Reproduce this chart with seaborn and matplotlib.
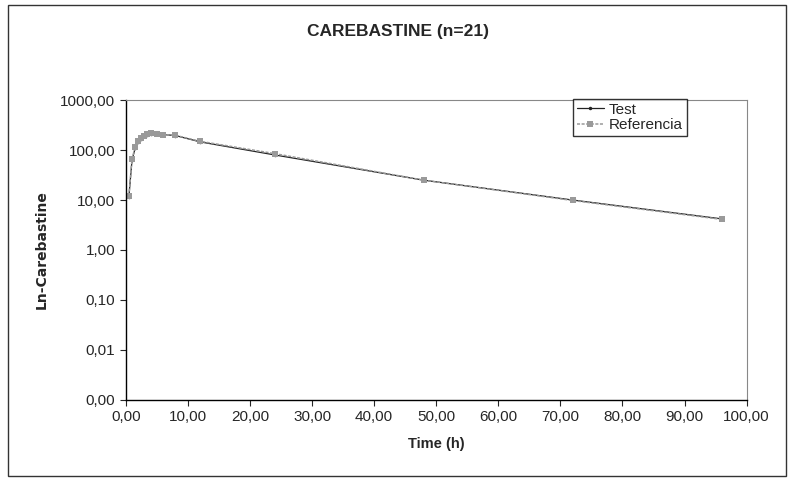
import numpy as np
import pandas as pd
import seaborn as sns
import matplotlib.pyplot as plt
from matplotlib.ticker import FixedLocator, FuncFormatter
from matplotlib.patches import Rectangle

# Mean concentrations
time_h = [0.5, 1, 1.5, 2, 2.5, 3, 3.5, 4, 5, 6, 8, 12, 24, 48, 72, 96]
test_conc = [11.5, 62, 108, 145, 170, 190, 205, 212, 210, 205, 196, 146, 80, 25, 10.0, 4.2]
ref_conc = [12, 65, 115, 150, 175, 195, 210, 220, 215, 205, 198, 150, 85, 25, 9.8, 4.1]
y_ticks = [0.001, 0.01, 0.1, 1, 10, 100, 1000]
x_ticks = [0, 10, 20, 30, 40, 50, 60, 70, 80, 90, 100]

sns.set_style("ticks")
plt.rcParams['font.family'] = ['Liberation Sans', 'DejaVu Sans']

df_test = pd.DataFrame({'Time (h)': time_h, 'conc': test_conc})
df_ref = pd.DataFrame({'Time (h)': time_h, 'conc': ref_conc})

fig = plt.figure(figsize=(7.96, 4.84), dpi=100)
ax = fig.add_axes([0.158, 0.174, 0.78, 0.619])

sns.lineplot(data=df_test, x='Time (h)', y='conc', ax=ax, color='#222222',
             linewidth=0.9, marker='o', markersize=2.5, markeredgewidth=0,
             label='Test')
sns.lineplot(data=df_ref, x='Time (h)', y='conc', ax=ax, color='#9a9a9a',
             linewidth=1.1, linestyle=(0, (2, 1)), marker='s', markersize=4,
             markeredgewidth=0, label='Referencia')

ax.set_yscale('log')
ax.set_ylim(0.001, 1000)
ax.set_xlim(0, 100)
ax.yaxis.set_major_locator(FixedLocator(y_ticks))
ax.yaxis.set_minor_locator(FixedLocator([]))
ax.xaxis.set_major_locator(FixedLocator(x_ticks))
fmt = FuncFormatter(lambda v, p: f"{v:.2f}".replace('.', ','))
ax.yaxis.set_major_formatter(fmt)
ax.xaxis.set_major_formatter(fmt)
ax.tick_params(axis='both', labelsize=11, length=4, width=0.8, direction='out')

for s in ['top', 'right']:
    ax.spines[s].set_color('#888888')
    ax.spines[s].set_linestyle((0, (1, 1)))
    ax.spines[s].set_linewidth(0.8)
for s in ['left', 'bottom']:
    ax.spines[s].set_color('black')
    ax.spines[s].set_linewidth(1.0)

ax.set_xlabel('Time (h)', fontsize=10.5, fontweight='bold', labelpad=9)
ax.set_ylabel('Ln-Carebastine', fontsize=10, fontweight='bold', labelpad=8,
              family=['DejaVu Sans'])
fig.text(0.5, 0.934, 'CAREBASTINE (n=21)', ha='center', va='center',
         fontsize=12.5, fontweight='bold')

leg = ax.legend(loc='upper left', bbox_to_anchor=(0.72, 1.005), fontsize=11,
                frameon=True, fancybox=False, handlelength=1.8,
                handletextpad=0.3, borderpad=0.25, labelspacing=0.1,
                borderaxespad=0)
leg.get_frame().set_edgecolor('black')
leg.get_frame().set_linewidth(1.0)

# outer chart border
fig.patches.append(Rectangle((0.01, 0.016), 0.978, 0.974, transform=fig.transFigure,
                             fill=False, edgecolor='#333333', linewidth=1.0))

fig.savefig('out.png', dpi=100)
